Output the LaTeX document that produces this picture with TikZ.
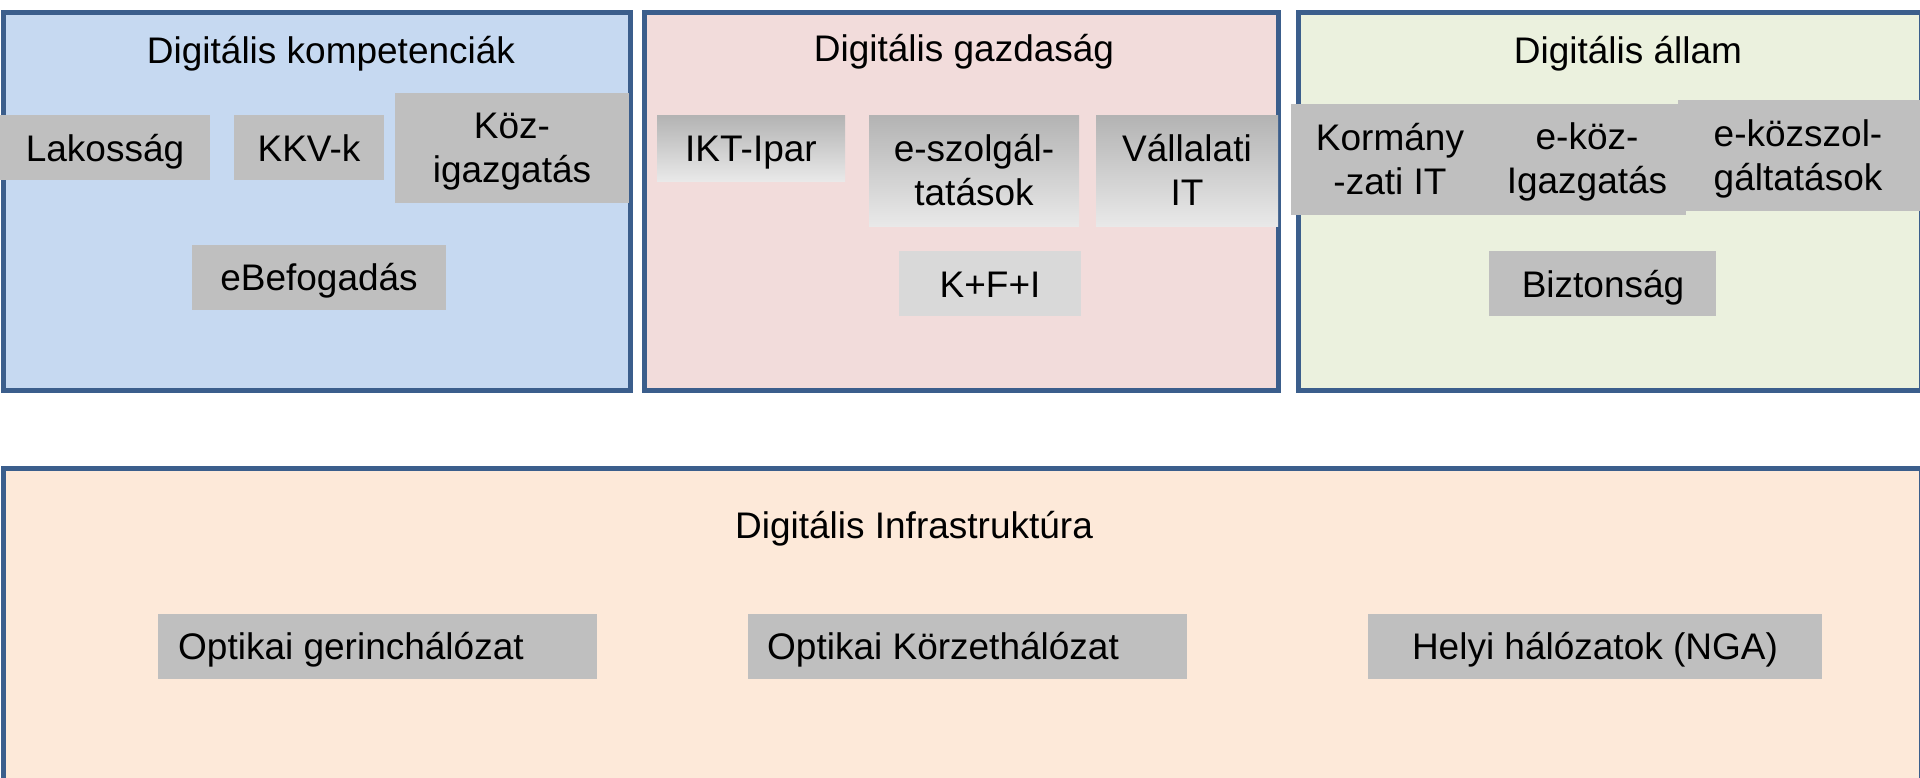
\documentclass[tikz,border=0pt]{standalone}
\usepackage{fontspec}
\setmainfont{Liberation Sans}
\definecolor{bdr}{HTML}{3B5E8C}
\definecolor{fblue}{HTML}{C6D9F1}
\definecolor{fpink}{HTML}{F2DCDB}
\definecolor{fgreen}{HTML}{EBF1DE}
\definecolor{fpeach}{HTML}{FDE9D9}
\definecolor{gry}{HTML}{BFBFBF}
\definecolor{gryl}{HTML}{D9D9D9}
\definecolor{grytop}{HTML}{B3B3B3}
\definecolor{grybot}{HTML}{E9E9E9}
\newcommand\twol[2]{\vtop{\halign{\hfil##\hfil\cr#1\cr#2\cr}}}
\begin{document}
\begin{tikzpicture}[x=1pt,y=-1pt,
  panel/.style={rectangle, draw=bdr, line width=5pt, inner sep=0pt, anchor=north west},
  gbox/.style={rectangle, fill=gry, inner sep=0pt, anchor=north west},
  shbox/.style={rectangle, inner sep=0pt, anchor=north west, top color=grytop, bottom color=grybot},
  lbox/.style={rectangle, fill=gryl, inner sep=0pt, anchor=north west},
  txt/.style={font=\fontsize{37}{44.5}\selectfont, inner sep=0pt, anchor=base},
  ltxt/.style={font=\fontsize{37}{44.5}\selectfont, inner sep=0pt, anchor=base west}]
\useasboundingbox (0,0) rectangle (1920,777);
\clip (0,0) rectangle (1920,777);
\fill[white] (0,0) rectangle (1920,777);
% panels
\node[panel, fill=fblue, minimum width=627pt, minimum height=378pt] (p1) at (0.5,9.5) {};
\node[panel, fill=fpink, minimum width=634.5pt, minimum height=378pt] (p2) at (641.5,9.5) {};
\node[panel, fill=fgreen, minimum width=623pt, minimum height=378pt] (p3) at (1295.5,9.5) {};
\node[panel, fill=fpeach, minimum width=1918pt, minimum height=340pt] (p4) at (0.5,465.5) {};
% titles
\node[txt] (t1) at (331,63) {Digitális kompetenciák};
\node[txt] (t2) at (964,61) {Digitális gazdaság};
\node[txt] (t3) at (1628,63) {Digitális állam};
\node[txt] (t4) at (914,538) {Digitális Infrastruktúra};
% grey boxes: panel 1
\node[gbox, minimum width=210pt, minimum height=65pt] (lak) at (0,115) {};
\node[gbox, minimum width=150pt, minimum height=65pt] (kkv) at (234,115) {};
\node[gbox, minimum width=234pt, minimum height=110pt] (koz) at (395,93) {};
\node[gbox, minimum width=254pt, minimum height=65pt] (ebe) at (192,245) {};
% panel 2
\node[shbox, minimum width=188pt, minimum height=66pt] (ikt) at (657,115) {};
\node[shbox, minimum width=210pt, minimum height=111pt] (esz) at (869,115) {};
\node[shbox, minimum width=182pt, minimum height=111pt] (val) at (1096,115) {};
\node[lbox, minimum width=182pt, minimum height=65pt] (kfi) at (899,251) {};
% panel 3
\node[gbox, minimum width=198pt, minimum height=111pt] (kor) at (1291,104) {};
\node[gbox, minimum width=197pt, minimum height=111pt] (ekoz) at (1489,104) {};
\node[gbox, minimum width=242pt, minimum height=111pt] (eksz) at (1678,100) {};
\node[gbox, minimum width=227pt, minimum height=65pt] (bizt) at (1489,251) {};
% panel 4
\node[gbox, minimum width=439pt, minimum height=65pt] (opg) at (158,614) {};
\node[gbox, minimum width=439pt, minimum height=65pt] (opk) at (748,614) {};
\node[gbox, minimum width=454pt, minimum height=65pt] (hel) at (1368,614) {};
% texts
\node[txt] (lakt) at (105,161) {Lakosság};
\node[txt] (kkvt) at (309,161) {KKV-k};
\node[txt] (kozt) at (512,138) {\twol{Köz-}{igazgatás}};
\node[txt] (ebet) at (319,290) {eBefogadás};
\node[txt] (iktt) at (751,161) {IKT-Ipar};
\node[txt] (eszt) at (974,161) {\twol{e-szolgál-}{tatások}};
\node[txt] (valt) at (1187,161) {\twol{Vállalati}{IT}};
\node[txt] (kfit) at (990,297) {K+F+I};
\node[txt] (kort) at (1390,150) {\twol{Kormány}{-zati IT}};
\node[txt] (ekozt) at (1587,149) {\twol{e-köz-}{Igazgatás}};
\node[txt] (ekszt) at (1798,146) {\twol{e-közszol-}{gáltatások}};
\node[txt] (biztt) at (1603,297) {Biztonság};
\node[ltxt] (opgt) at (178,659) {Optikai gerinchálózat};
\node[ltxt] (opkt) at (767,659) {Optikai Körzethálózat};
\node[txt] (helt) at (1595,659) {Helyi hálózatok (NGA)};
\end{tikzpicture}
\end{document}
